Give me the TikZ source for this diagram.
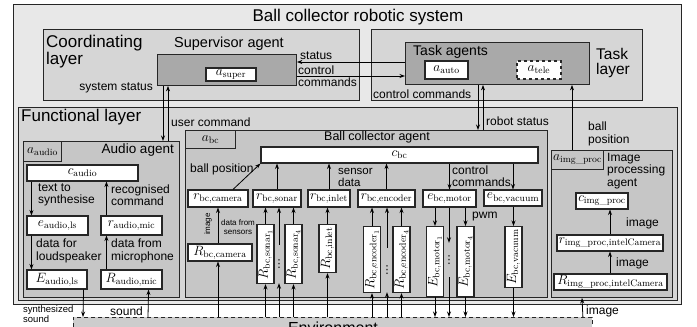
\RequirePackage{fix-cm}
\documentclass[tikz,border=0pt]{standalone}
\usepackage{amsmath}
\usepackage{fontspec}
\setsansfont{Liberation Sans}
\newfontfamily\symfont{DejaVu Sans}
\usetikzlibrary{arrows.meta,positioning,calc}
\definecolor{SysGray}{HTML}{E8E8E8}
\definecolor{LayerGray}{HTML}{D6D6D6}
\definecolor{AgentGray}{HTML}{C6C6C6}
\definecolor{DarkAgent}{HTML}{A9A9A9}
\definecolor{EnvGray}{HTML}{CDCDCD}
\definecolor{EdgeGray}{HTML}{262626}
\newcommand{\imgproc}{\mathrm{img}\text{\_}\mathrm{proc}}
\tikzset{
  sysbox/.style={draw=EdgeGray, fill=SysGray, line width=0.9pt, anchor=north west, inner sep=0pt},
  layerbox/.style={sysbox, fill=LayerGray},
  agentbox/.style={sysbox, fill=AgentGray},
  darkbox/.style={sysbox, fill=DarkAgent},
  envbox/.style={sysbox, fill=EnvGray, dash pattern=on 4pt off 3pt,
                 font=\sffamily\fontsize{16}{16}\selectfont},
  mnode/.style={draw=EdgeGray, fill=white, line width=1.1pt, inner sep=1.2pt,
                font=\fontsize{13.5}{15}\selectfont},
  rnode/.style={mnode, rotate=90, anchor=east, minimum height=17},
  dotsnode/.style={inner sep=0pt, font=\symfont\fontsize{11}{12}\selectfont},
  ttl/.style={font=\sffamily\fontsize{17}{15}\selectfont, inner sep=0pt, align=left},
  agttl/.style={font=\sffamily\fontsize{14.5}{14}\selectfont, inner sep=0pt, align=left},
  lbl/.style={font=\sffamily\fontsize{12}{12.5}\selectfont, inner sep=0pt, align=left},
  tinylbl/.style={font=\sffamily\fontsize{8}{8.5}\selectfont, inner sep=0pt, align=center},
  flow/.style={-{Stealth[length=5.5pt,width=4pt]}, line width=0.8pt, black}
}

\begin{document}
\begin{tikzpicture}[x=1pt, y=-1pt]
\useasboundingbox (0,0) rectangle (697,327);

% containers
\node[sysbox, minimum width=668, minimum height=300] (sys) at (13,4) {};
\node[ttl] (systtl) at (358,17) {Ball collector robotic system};
\node[layerbox, minimum width=316, minimum height=71] (coord) at (43,29) {};
\node[layerbox, minimum width=271, minimum height=71] (tasklayer) at (371,29) {};
\node[darkbox, minimum width=139, minimum height=31] (super) at (157,54) {};
\node[darkbox, minimum width=184, minimum height=42] (taskag) at (405,42) {};
\node[layerbox, minimum width=659, minimum height=193] (func) at (18,107) {};
\node[agentbox, minimum width=156, minimum height=156] (audio) at (23,141) {};
\node[agentbox, minimum width=362, minimum height=167] (bc) at (185,130) {};
\node[agentbox, minimum width=121, minimum height=147] (imgag) at (551,150) {};
\node[envbox, minimum width=519, minimum height=20] (env) at (73,317) {Environment};

% layer and agent titles
\node[ttl, anchor=north west] (coordttl) at (46,35) {Coordinating\\layer};
\node[ttl, anchor=north west, font=\sffamily\fontsize{15.5}{15}\selectfont] (taskttl) at (596,48) {Task\\layer};
\node[ttl, anchor=west] (functtl) at (21,117) {Functional layer};
\node[agttl] (superttl) at (229,44) {Supervisor agent};
\node[agttl, anchor=west, font=\sffamily\fontsize{14}{14}\selectfont] (taskagttl) at (413,52) {Task agents};
\node[agttl, anchor=east, font=\sffamily\fontsize{13.5}{14}\selectfont] (audiottl) at (174,150) {Audio agent};
\node[agttl, font=\sffamily\fontsize{12.5}{13}\selectfont] (bcttl) at (377,137) {Ball collector agent};
\node[lbl, anchor=north west] (imgttl) at (607,153) {Image\\processing\\agent};

% agents
\node[mnode, minimum width=50, minimum height=13] (asuper) at (231,74.5) {$a_\mathrm{super}$};
\node[mnode, minimum width=43, minimum height=18] (aauto) at (446.5,70) {$a_\mathrm{auto}$};
\node[mnode, dashed, minimum width=44, minimum height=18] (atele) at (539,70) {$a_\mathrm{tele}$};
\node[mnode, fill=AgentGray, anchor=north west, minimum width=38, minimum height=20] (aaudio) at (23,141) {$a_\mathrm{audio}$};
\node[mnode, fill=AgentGray, anchor=north west, minimum width=50, minimum height=18] (abc) at (185,130) {$a_\mathrm{bc}$};
\node[mnode, fill=AgentGray, anchor=north west, minimum width=52, minimum height=19] (aimg) at (551,150) {$a_{\imgproc}$};

% audio agent
\node[mnode, minimum width=111, minimum height=16] (caudio) at (82.5,173) {$c_\mathrm{audio}$};
\node[mnode, minimum width=61, minimum height=19] (eals) at (57.5,225.5) {$e_\mathrm{audio{,}ls}$};
\node[mnode, minimum width=61, minimum height=19] (rmic) at (131.5,225.5) {$r_\mathrm{audio{,}mic}$};
\node[mnode, minimum width=60, minimum height=19] (Eals) at (57,279.5) {$E_\mathrm{audio{,}ls}$};
\node[mnode, minimum width=61, minimum height=19] (Rmic) at (131.5,279.5) {$R_\mathrm{audio{,}mic}$};

% ball collector agent
\node[mnode, minimum width=277, minimum height=16] (cbc) at (399.5,155) {$c_\mathrm{bc}$};
\node[mnode, minimum width=60, minimum height=17] (rcam) at (218,198.5) {$r_\mathrm{bc{,}camera}$};
\node[mnode, minimum width=64, minimum height=17] (Rcam) at (220,252.5) {$R_\mathrm{bc{,}camera}$};
\node[mnode, minimum width=48, minimum height=17] (rsonar) at (277,198.5) {$r_\mathrm{bc{,}sonar}$};
\node[mnode, minimum width=42, minimum height=17] (rinlet) at (329,198.5) {$r_\mathrm{bc{,}inlet}$};
\node[mnode, minimum width=57, minimum height=17] (renc) at (386.5,198.5) {$r_\mathrm{bc{,}encoder}$};
\node[mnode, minimum width=53, minimum height=17] (emotor) at (449.5,198.5) {$e_\mathrm{bc{,}motor}$};
\node[mnode, minimum width=58, minimum height=16] (evac) at (513,198) {$e_\mathrm{bc{,}vacuum}$};
\node[rnode, minimum width=59] (Rs1) at (265.5,224) {$R_{\mathrm{bc{,}sonar}_1}$};
\node[dotsnode, minimum height=38] (sdots) at (279,264) {⋮};
\node[rnode, minimum width=59] (Rs4) at (293.5,224) {$R_{\mathrm{bc{,}sonar}_4}$};
\node[rnode, minimum width=48] (Rinlet) at (327.5,224) {$R_\mathrm{bc{,}inlet}$};
\node[rnode, minimum width=66] (Re1) at (372,226) {$R_{\mathrm{bc{,}encoder}_1}$};
\node[dotsnode, minimum height=44] (edots) at (387,270) {⋮};
\node[rnode, minimum width=66] (Re4) at (401.5,226) {$R_{\mathrm{bc{,}encoder}_4}$};
\node[rnode, minimum width=70] (Em1) at (435,226) {$E_{\mathrm{bc{,}motor}_1}$};
\node[dotsnode, minimum height=34] (mdots) at (449,260) {⋮};
\node[rnode, minimum width=70] (Em4) at (465.5,226) {$E_{\mathrm{bc{,}motor}_4}$};
\node[rnode, minimum width=61] (Ev) at (513.5,226) {$E_\mathrm{bc{,}vacuum}$};

% image processing agent
\node[mnode, minimum width=52, minimum height=16] (cimg) at (602,201) {$c_{\imgproc}$};
\node[mnode, minimum width=106, minimum height=16] (rimg) at (610,243) {$r_{\imgproc\mathrm{{,}intelCamera}}$};
\node[mnode, minimum width=113, minimum height=16] (Rimg) at (610.5,282) {$R_{\imgproc\mathrm{{,}intelCamera}}$};

% between layers
\draw[flow] ($(taskag.north west)+(0,20)$) -- ($(super.north east)+(0,8)$);
\draw[flow] ($(super.north east)+(0,22)$) -- ($(taskag.north west)+(0,34)$);
\draw[flow] ($(super.south west)+(6,0)$) -- ($(audio.north west)+(140,0)$);
\draw[flow] ($(audio.north west)+(145,0)$) -- ($(super.south west)+(11,0)$);
\draw[flow] ($(taskag.south west)+(73,0)$) -- ($(bc.north west)+(293,0)$);
\draw[flow] ($(bc.north west)+(298,0)$) -- ($(taskag.south west)+(78,0)$);
\draw[flow] ($(imgag.north west)+(21,0)$) -- ($(taskag.south west)+(167,0)$);

% audio flows
\draw[flow] ($(caudio.south west)+(5,0)$) -- ($(eals.north west)+(5,0)$);
\draw[flow] ($(rmic.north west)+(6,0)$) -- ($(caudio.south west)+(80,0)$);
\draw[flow] ($(eals.south west)+(5,0)$) -- ($(Eals.north west)+(5,0)$);
\draw[flow] ($(Rmic.north west)+(6,0)$) -- ($(rmic.south west)+(6,0)$);
\draw[flow] ($(Eals.south east)+(-4,0)$) -- ($(env.north west)+(10,0)$);
\draw[flow] ($(env.north west)+(75,0)$) -- ($(Rmic.south east)+(-14,0)$);

% ball collector flows
\draw[flow] ($(rcam.north)+(15,0)$) -- (cbc.south west);
\draw[flow] (Rcam.north -| rcam.south) -- (rcam.south);
\draw[flow] (env.north -| rcam.south) -- (Rcam.south -| rcam.south);
\draw[flow] (rsonar.north) -- (cbc.south -| rsonar.north);
\draw[flow] (Rs1.east) -- (rsonar.south -| Rs1.east);
\draw[flow] (env.north -| Rs1.west) -- (Rs1.west);
\draw[flow] (sdots.north) -- (rsonar.south -| sdots.north);
\draw[flow] (env.north -| sdots.south) -- (sdots.south);
\draw[flow] (Rs4.east) -- (rsonar.south -| Rs4.east);
\draw[flow] (env.north -| Rs4.west) -- (Rs4.west);
\draw[flow] (rinlet.north) -- (cbc.south -| rinlet.north);
\draw[flow] (Rinlet.east) -- (rinlet.south -| Rinlet.east);
\draw[flow] (env.north -| Rinlet.west) -- (Rinlet.west);
\draw[flow] (renc.north) -- (cbc.south -| renc.north);
\draw[flow] (Re1.east) -- (renc.south -| Re1.east);
\draw[flow] (env.north -| Re1.west) -- (Re1.west);
\draw[flow] (edots.north) -- (renc.south -| edots.north);
\draw[flow] (env.north -| edots.south) -- (edots.south);
\draw[flow] (Re4.east) -- (renc.south -| Re4.east);
\draw[flow] (env.north -| Re4.west) -- (Re4.west);
\draw[flow] (cbc.south -| emotor.north) -- (emotor.north);
\draw[flow] (cbc.south -| evac.north) -- (evac.north);
\draw[flow] (emotor.south -| Em1.east) -- (Em1.east);
\draw[flow] (Em1.west) -- (env.north -| Em1.west);
\draw[flow] (emotor.south -| mdots.north) -- (mdots.north);
\draw[flow] (mdots.south) -- (env.north -| mdots.south);
\draw[flow] (emotor.south -| Em4.east) -- (Em4.east);
\draw[flow] (Em4.west) -- (env.north -| Em4.west);
\draw[flow] (evac.south -| Ev.east) -- (Ev.east);
\draw[flow] (Ev.west) -- (env.north -| Ev.west);

% image processing flows
\draw[flow] (Rimg.north -| rimg.south) -- (rimg.south);
\draw[flow] (rimg.north) -- (cimg.south -| rimg.north);
\draw[flow] ($(env.north east)+(-10,0)$) -- ($(imgag.south west)+(31,0)$);

% connector labels
\node[lbl, anchor=south west] (lstatus) at (300,60) {status};
\node[lbl, anchor=west] (lctrl) at (298,76) {control\\commands};
\node[lbl, anchor=east] (lsysstat) at (153,88) {system status};
\node[lbl, anchor=west] (lctrltask) at (373,94) {control commands};
\node[lbl, anchor=west] (luser) at (171,122) {user command};
\node[lbl, anchor=west] (lrobot) at (486,121) {robot status};
\node[lbl, anchor=west] (lballtask) at (588,134) {ball\\position};
\node[lbl, anchor=west] (ltext) at (38,195) {text to\\synthesise};
\node[lbl, anchor=west] (lrecog) at (111,195) {recognised\\command};
\node[lbl, anchor=west] (lloud) at (36,251) {data for\\loudspeaker};
\node[lbl, anchor=west] (lmic) at (111,251) {data from\\microphone};
\node[lbl, anchor=west] (lballbc) at (190,169) {ball position};
\node[lbl, anchor=west, font=\sffamily\fontsize{11.5}{12}\selectfont] (lsensor) at (338,177) {sensor\\data};
\node[lbl, anchor=west] (lctrlbc) at (452,176) {control\\commands};
\node[lbl, anchor=west] (lpwm) at (472,217) {pwm};
\node[tinylbl] (lsensors) at (238,227) {data from\\sensors};
\node[tinylbl, rotate=90] (lcamimg) at (208,224) {image};
\node[lbl, anchor=west] (limg1) at (626,223) {image};
\node[lbl, anchor=west] (limg2) at (616,263) {image};
\node[tinylbl, anchor=west, align=left, font=\sffamily\fontsize{9.5}{7}\selectfont] (lsynth) at (23,314) {synthesized\\sound};
\node[lbl, anchor=west] (lsound) at (110,311) {sound};
\node[lbl, anchor=west] (limgenv) at (586,311) {image};
\end{tikzpicture}
\end{document}
